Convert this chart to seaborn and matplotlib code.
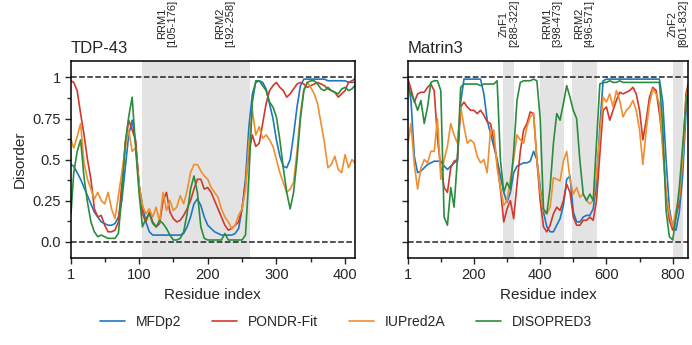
import seaborn as sns
import pandas as pd
import matplotlib.pyplot as plt
from matplotlib.ticker import MultipleLocator

# predictors and their colours
methods = ['MFDp2', 'PONDR-Fit', 'IUPred2A', 'DISOPRED3']
colors = ['#1f77c4', '#d0392b', '#ef8f2f', '#2b8c3e']

# --- TDP-43 (414 residues), values read every 5 residues ---
tdp_res = [1] + list(range(5, 411, 5)) + [414]

tdp_mfdp2 = [0.47, 0.46, 0.42, 0.38, 0.33, 0.28, 0.23, 0.18, 0.15, 0.12,
             0.11, 0.10, 0.10, 0.11, 0.15, 0.25, 0.45, 0.65, 0.74, 0.60,
             0.35, 0.22, 0.12, 0.06, 0.04, 0.04, 0.04, 0.04, 0.04, 0.04,
             0.04, 0.04, 0.04, 0.05, 0.09, 0.15, 0.23, 0.26, 0.22, 0.15,
             0.10, 0.08, 0.06, 0.05, 0.04, 0.04, 0.04, 0.04, 0.05, 0.08,
             0.20, 0.38, 0.70, 0.90, 0.97, 0.98, 0.97, 0.93, 0.84, 0.75,
             0.62, 0.52, 0.46, 0.45, 0.50, 0.65, 0.82, 0.95, 0.99, 0.99,
             0.99, 0.99, 0.99, 0.99, 0.99, 0.98, 0.98, 0.98, 0.98, 0.98,
             0.98, 0.97, 0.97, 0.97]
tdp_pondr = [0.98, 0.97, 0.92, 0.78, 0.65, 0.50, 0.38, 0.20, 0.15, 0.16,
             0.10, 0.06, 0.06, 0.07, 0.12, 0.35, 0.60, 0.74, 0.68, 0.62,
             0.35, 0.17, 0.12, 0.18, 0.12, 0.09, 0.11, 0.25, 0.30, 0.18,
             0.14, 0.12, 0.13, 0.16, 0.20, 0.25, 0.32, 0.38, 0.38, 0.32,
             0.33, 0.30, 0.25, 0.20, 0.15, 0.10, 0.07, 0.08, 0.10, 0.12,
             0.20, 0.35, 0.55, 0.65, 0.58, 0.60, 0.72, 0.84, 0.92, 0.95,
             0.97, 0.94, 0.92, 0.88, 0.90, 0.93, 0.96, 0.97, 0.96, 0.94,
             0.95, 0.96, 0.97, 0.96, 0.95, 0.93, 0.92, 0.91, 0.88, 0.90,
             0.92, 0.97, 0.98, 0.99]
tdp_iupred = [0.62, 0.57, 0.64, 0.72, 0.48, 0.38, 0.32, 0.26, 0.30, 0.25,
              0.23, 0.30, 0.20, 0.14, 0.28, 0.42, 0.57, 0.68, 0.55, 0.57,
              0.35, 0.22, 0.17, 0.20, 0.15, 0.21, 0.12, 0.30, 0.19, 0.25,
              0.19, 0.21, 0.28, 0.23, 0.31, 0.42, 0.47, 0.47, 0.43, 0.40,
              0.38, 0.33, 0.30, 0.27, 0.20, 0.15, 0.12, 0.08, 0.10, 0.16,
              0.20, 0.32, 0.60, 0.80, 0.65, 0.70, 0.63, 0.65, 0.62, 0.58,
              0.50, 0.42, 0.36, 0.30, 0.32, 0.36, 0.55, 0.78, 0.93, 0.97,
              0.94, 0.90, 0.84, 0.72, 0.60, 0.45, 0.47, 0.52, 0.44, 0.42,
              0.53, 0.45, 0.50, 0.48]
tdp_disopred = [0.17, 0.42, 0.55, 0.62, 0.39, 0.24, 0.12, 0.06, 0.03, 0.04,
                0.03, 0.02, 0.02, 0.02, 0.05, 0.28, 0.60, 0.76, 0.88, 0.58,
                0.30, 0.09, 0.14, 0.17, 0.11, 0.09, 0.13, 0.11, 0.08, 0.04,
                0.01, 0.01, 0.02, 0.06, 0.17, 0.32, 0.40, 0.30, 0.09, 0.02,
                0.01, 0.01, 0.01, 0.01, 0.01, 0.05, 0.01, 0.01, 0.01, 0.01,
                0.01, 0.04, 0.40, 0.85, 0.98, 0.98, 0.95, 0.92, 0.85, 0.82,
                0.76, 0.62, 0.45, 0.30, 0.20, 0.30, 0.50, 0.75, 0.92, 0.97,
                0.98, 0.98, 0.96, 0.93, 0.92, 0.94, 0.92, 0.91, 0.90, 0.93,
                0.94, 0.92, 0.93, 0.95]

# --- Matrin3 (847 residues), values read every 10 residues ---
mat_res = [1] + list(range(10, 841, 10)) + [847]

mat_mfdp2 = [0.98, 0.86, 0.52, 0.42, 0.43, 0.45, 0.47, 0.48, 0.49, 0.49,
             0.49, 0.46, 0.44, 0.46, 0.48, 0.49, 0.85, 0.99, 0.99, 0.99,
             0.99, 0.99, 0.99, 0.90, 0.74, 0.66, 0.58, 0.50, 0.40, 0.30,
             0.24, 0.30, 0.42, 0.46, 0.47, 0.48, 0.48, 0.49, 0.55, 0.50,
             0.33, 0.18, 0.09, 0.06, 0.06, 0.10, 0.14, 0.22, 0.38, 0.40,
             0.18, 0.12, 0.12, 0.15, 0.16, 0.16, 0.20, 0.35, 0.70, 0.98,
             0.99, 0.99, 0.99, 0.99, 0.99, 0.99, 0.99, 0.99, 0.99, 0.99,
             0.99, 0.99, 0.99, 0.99, 0.99, 0.99, 0.99, 0.85, 0.50, 0.20,
             0.09, 0.07, 0.18, 0.40, 0.78, 0.94]
mat_pondr = [0.99, 0.93, 0.85, 0.90, 0.91, 0.91, 0.94, 0.96, 0.92, 0.63,
             0.45, 0.33, 0.30, 0.45, 0.49, 0.50, 0.82, 0.85, 0.82, 0.80,
             0.80, 0.78, 0.80, 0.77, 0.73, 0.72, 0.62, 0.48, 0.32, 0.12,
             0.20, 0.25, 0.14, 0.35, 0.55, 0.68, 0.72, 0.79, 0.78, 0.50,
             0.25, 0.09, 0.06, 0.10, 0.17, 0.21, 0.19, 0.25, 0.35, 0.30,
             0.15, 0.10, 0.10, 0.13, 0.13, 0.15, 0.13, 0.25, 0.53, 0.80,
             0.82, 0.74, 0.80, 0.86, 0.91, 0.90, 0.91, 0.92, 0.94, 0.90,
             0.80, 0.62, 0.74, 0.88, 0.94, 0.92, 0.78, 0.60, 0.29, 0.13,
             0.07, 0.15, 0.25, 0.50, 0.90, 0.96]
mat_iupred = [0.60, 0.72, 0.47, 0.32, 0.45, 0.50, 0.48, 0.55, 0.55, 0.75,
              0.38, 0.50, 0.58, 0.72, 0.65, 0.60, 0.82, 0.70, 0.60, 0.62,
              0.60, 0.52, 0.48, 0.50, 0.42, 0.68, 0.68, 0.45, 0.33, 0.22,
              0.25, 0.38, 0.50, 0.65, 0.62, 0.60, 0.70, 0.76, 0.78, 0.50,
              0.30, 0.19, 0.17, 0.21, 0.39, 0.38, 0.37, 0.49, 0.55, 0.38,
              0.29, 0.33, 0.27, 0.29, 0.25, 0.23, 0.25, 0.40, 0.65, 0.88,
              0.85, 0.90, 0.82, 0.92, 0.86, 0.76, 0.80, 0.82, 0.86, 0.80,
              0.68, 0.47, 0.68, 0.84, 0.93, 0.90, 0.84, 0.55, 0.30, 0.17,
              0.09, 0.19, 0.27, 0.50, 0.86, 0.94]
mat_disopred = [0.94, 0.90, 0.86, 0.80, 0.86, 0.72, 0.82, 0.97, 0.98, 0.98,
                0.92, 0.15, 0.10, 0.33, 0.21, 0.50, 0.94, 0.96, 0.96, 0.96,
                0.96, 0.96, 0.95, 0.96, 0.96, 0.96, 0.96, 0.98, 0.50, 0.30,
                0.36, 0.32, 0.55, 0.86, 0.97, 0.98, 0.98, 0.98, 0.99, 0.98,
                0.75, 0.20, 0.17, 0.33, 0.60, 0.78, 0.74, 0.84, 0.95, 0.88,
                0.80, 0.75, 0.49, 0.29, 0.25, 0.29, 0.25, 0.60, 0.96, 0.97,
                0.97, 0.98, 0.97, 0.97, 0.98, 0.97, 0.97, 0.97, 0.97, 0.97,
                0.97, 0.97, 0.97, 0.97, 0.97, 0.97, 0.97, 0.70, 0.19, 0.03,
                0.01, 0.15, 0.33, 0.58, 0.84, 0.92]

# domain annotations: label, start, end
tdp_domains = [('RRM1\n[105-176]', 105, 176), ('RRM2\n[192-258]', 192, 258)]
tdp_shade = [(105, 262)]
mat_domains = [('ZnF1\n[288-322]', 288, 322), ('RRM1\n[398-473]', 398, 473),
               ('RRM2\n[496-571]', 496, 571), ('ZnF2\n[801-832]', 801, 832)]
mat_shade = [(288, 322), (398, 473), (496, 571), (801, 832)]


def long_frame(res, series):
    parts = [pd.DataFrame({'Residue': res, 'Disorder': vals, 'Method': name})
             for name, vals in zip(methods, series)]
    return pd.concat(parts, ignore_index=True)


tdp_df = long_frame(tdp_res, [tdp_mfdp2, tdp_pondr, tdp_iupred, tdp_disopred])
mat_df = long_frame(mat_res, [mat_mfdp2, mat_pondr, mat_iupred, mat_disopred])

sns.set_style('ticks')
plt.rcParams['font.family'] = ['Liberation Sans', 'DejaVu Sans']

fig = plt.figure(figsize=(6.92, 3.45), dpi=100)
ax1 = fig.add_axes([0.1026, 0.252, 0.41, 0.571])
ax2 = fig.add_axes([0.5896, 0.252, 0.405, 0.571])

panels = [
    (ax1, tdp_df, 'TDP-43', tdp_domains, tdp_shade, 414, [1, 100, 200, 300, 400], 50),
    (ax2, mat_df, 'Matrin3', mat_domains, mat_shade, 847, [1, 200, 400, 600, 800], 100),
]

for ax, df, name, domains, shade, length, xticks, minor in panels:
    for a, b in shade:
        ax.axvspan(a, b, color='#e3e3e3', lw=0, zorder=0)
    ax.axhline(0, color='#222222', ls='--', lw=1.1, zorder=1)
    ax.axhline(1, color='#222222', ls='--', lw=1.1, zorder=1)
    sns.lineplot(data=df, x='Residue', y='Disorder', hue='Method',
                 hue_order=methods, palette=colors, lw=1.2,
                 errorbar=None, ax=ax, zorder=2)
    ax.get_legend().remove()

    ax.set_xlim(1, length)
    ax.set_ylim(-0.1, 1.1)
    ax.set_xticks(xticks)
    ax.xaxis.set_minor_locator(MultipleLocator(minor))
    ax.set_yticks([0, 0.25, 0.5, 0.75, 1])
    ax.yaxis.set_minor_locator(MultipleLocator(0.125))
    ax.tick_params(which='major', length=4, width=1.0, labelsize=10.5)
    ax.tick_params(which='minor', length=3, width=1.0)
    for sp in ax.spines.values():
        sp.set_linewidth(1.1)
        sp.set_color('black')
    ax.set_xlabel('Residue index', fontsize=11)
    ax.set_title(name, loc='left', fontsize=12, pad=6)

    for label, a, b in domains:
        ax.text((a + b) / 2, 1.07, label, transform=ax.get_xaxis_transform(),
                rotation=90, ha='center', va='bottom', fontsize=8,
                linespacing=1.05, multialignment='center')

ax1.set_yticklabels(['0.0', '0.25', '0.5', '0.75', '1'])
ax1.set_ylabel('Disorder', fontsize=11)
ax2.set_yticklabels([])
ax2.set_ylabel('')

handles, labels = ax1.get_legend_handles_labels()
fig.legend(handles, labels, loc='center', bbox_to_anchor=(0.5, 0.067),
           ncol=4, frameon=False, fontsize=10, handlelength=1.8,
           columnspacing=2.2, handletextpad=0.8)

fig.savefig('out.png', dpi=100)
